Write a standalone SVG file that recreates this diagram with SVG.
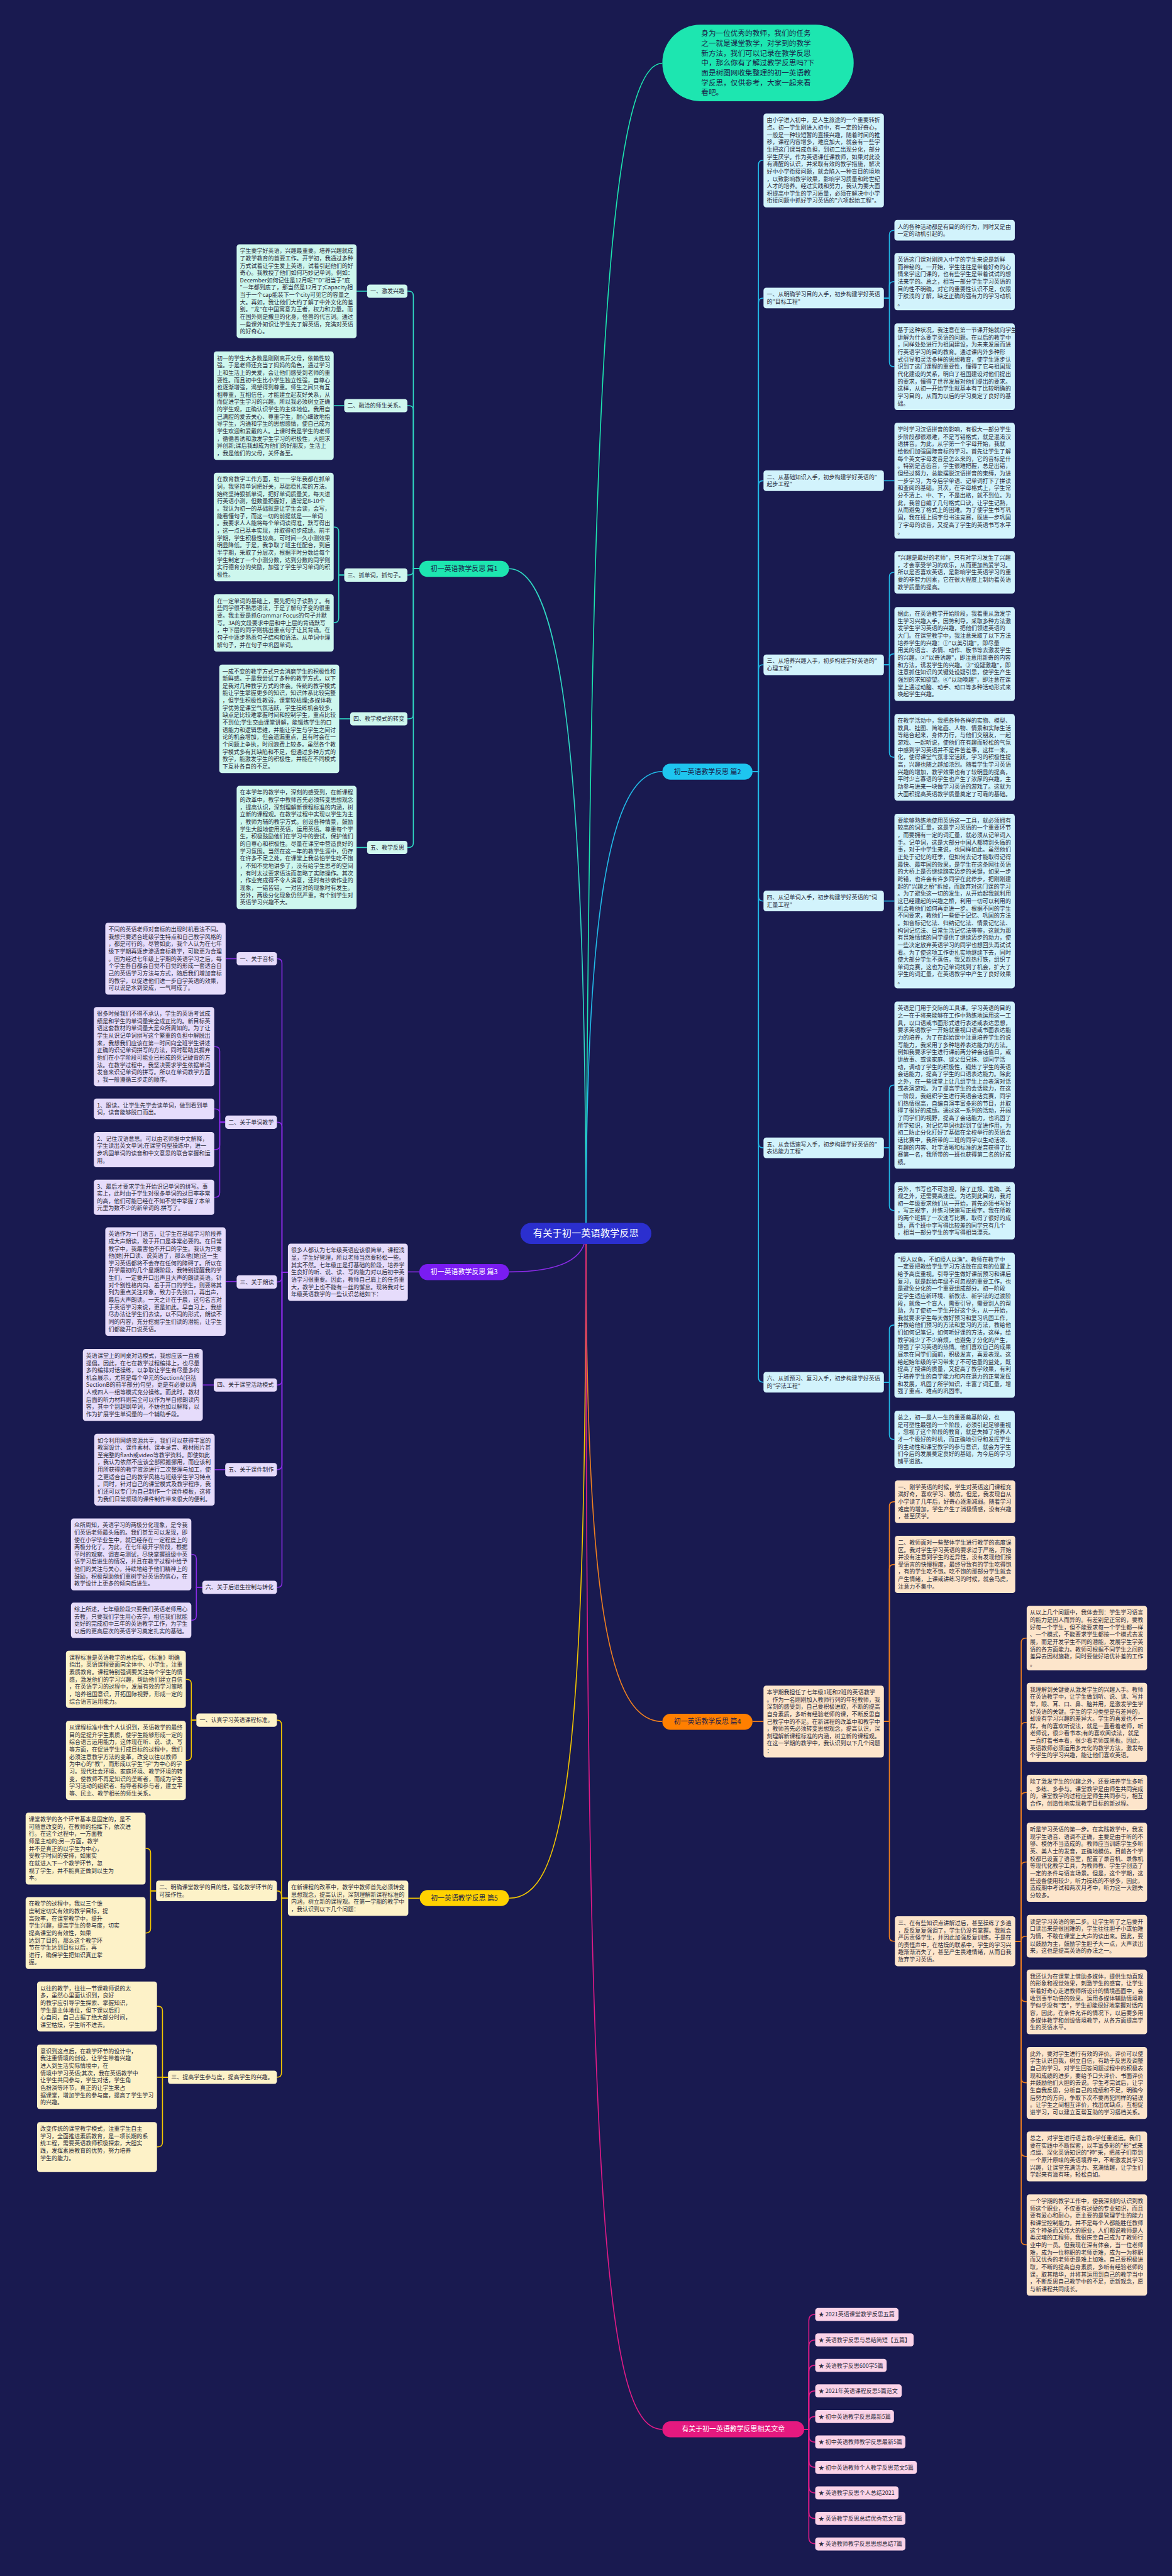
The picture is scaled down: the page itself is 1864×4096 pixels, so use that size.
<svg xmlns="http://www.w3.org/2000/svg" width="1864" height="4096" viewBox="0 0 1864 4096">
<style>
text{font-family:"Noto Sans CJK SC","Noto Sans",sans-serif}
.t{font-size:12.4px;fill:#2b2b3a}
.lb{font-size:15px;text-anchor:middle}
.c{fill:none;stroke-width:2.2}
.c1{stroke:#2fd9c3}.c2{stroke:#22bbe8}.c3{stroke:#8a2be6}.c4{stroke:#f08020}.c5{stroke:#f2c600}.c6{stroke:#e21b87}
.f1{fill:#cef7ee}.f2{fill:#d2f3fc}.f3{fill:#e6dcfb}.f4{fill:#fde5cb}.f5{fill:#fdf2c8}.f6{fill:#fbd3e8}
</style>
<rect width="1864" height="4096" fill="#191a50"/>
<g transform="scale(0.728)">
<g id="connectors">
<path class="c" stroke="#1de6b0" d="M1280,2694 C1290,1000 1320,138 1447,138"/>
<path class="c c1" d="M1280,2694 C1280,1700 1230,1242 1112,1242"/>
<path class="c c2" d="M1280,2694 C1280,2000 1330,1685 1447,1685"/>
<path class="c c3" d="M1280,2694 C1280,2760 1200,2778 1112,2778"/>
<path class="c c4" d="M1280,2694 C1280,3500 1330,3760 1447,3760"/>
<path class="c c5" d="M1280,2694 C1280,3900 1230,4146 1112,4146"/>
<path class="c c6" d="M1280,2694 C1280,4900 1330,5306 1447,5306"/>
<g class="c c1" fill="none">
<path d="M916,1242 H903 V646 Q903,636 893,636 H890"/>
<path d="M916,1242 H903 V896 Q903,886 893,886 H890"/>
<path d="M916,1242 H903 V1246 Q903,1256 893,1256 H890"/>
<path d="M916,1242 H903 V1560 Q903,1570 893,1570 H890"/>
<path d="M916,1242 H903 V1841 Q903,1851 893,1851 H890"/>
<path d="M802,636 H779"/><path d="M752,886 H729"/>
<path d="M752,1256 H740 V1161 Q740,1151 730,1151 H729"/>
<path d="M752,1256 H740 V1350 Q740,1360 730,1360 H729"/>
<path d="M765,1570 H741"/><path d="M802,1851 H779"/>
</g>
<g class="c c2" fill="none">
<path d="M1644,1685 H1657 V360 Q1657,350 1667,350 H1668"/>
<path d="M1644,1685 H1657 V661 Q1657,651 1667,651 H1668"/>
<path d="M1644,1685 H1657 V1060 Q1657,1050 1667,1050 H1668"/>
<path d="M1644,1685 H1657 V1462 Q1657,1452 1667,1452 H1668"/>
<path d="M1644,1685 H1657 V1958 Q1657,1968 1667,1968 H1668"/>
<path d="M1644,1685 H1657 V2497 Q1657,2507 1667,2507 H1668"/>
<path d="M1644,1685 H1657 V3009 Q1657,3019 1667,3019 H1668"/>
<path d="M1931,651 H1943 V513 Q1943,503 1953,503 H1954"/>
<path d="M1931,651 H1943 V625 Q1943,615 1953,615 H1954"/>
<path d="M1931,651 H1943 V791 Q1943,801 1953,801 H1954"/>
<path d="M1931,1050 H1954"/>
<path d="M1931,1452 H1943 V1260 Q1943,1250 1953,1250 H1954"/>
<path d="M1931,1452 H1943 V1438 Q1943,1428 1953,1428 H1954"/>
<path d="M1931,1452 H1943 V1644 Q1943,1654 1953,1654 H1954"/>
<path d="M1931,1968 H1954"/>
<path d="M1931,2507 H1943 V2380 Q1943,2370 1953,2370 H1954"/>
<path d="M1931,2507 H1943 V2634 Q1943,2644 1953,2644 H1954"/>
<path d="M1931,3019 H1943 V2904 Q1943,2894 1953,2894 H1954"/>
<path d="M1931,3019 H1943 V3134 Q1943,3144 1953,3144 H1954"/>
</g>
<g class="c c3" fill="none">
<path d="M916,2778 H891"/>
<path d="M629,2779 H616 V2104 Q616,2094 606,2094 H605"/>
<path d="M629,2779 H616 V2461 Q616,2451 606,2451 H605"/>
<path d="M629,2779 H616 V2790 Q616,2800 606,2800 H605"/>
<path d="M629,2779 H616 V3015 Q616,3025 606,3025 H605"/>
<path d="M629,2779 H616 V3200 Q616,3210 606,3210 H605"/>
<path d="M629,2779 H616 V3457 Q616,3467 606,3467 H605"/>
<path d="M517,2094 H493"/>
<path d="M492,2451 H480 V2296 Q480,2286 470,2286 H468"/>
<path d="M492,2451 H480 V2432 Q480,2422 470,2422 H468"/>
<path d="M492,2451 H480 V2501 Q480,2511 470,2511 H468"/>
<path d="M492,2451 H480 V2605 Q480,2615 470,2615 H468"/>
<path d="M517,2799 H493"/><path d="M467,3025 H443"/><path d="M492,3210 H469"/>
<path d="M442,3467 H429 V3405 Q429,3395 419,3395 H418"/>
<path d="M442,3467 H429 V3529 Q429,3539 419,3539 H418"/>
</g>
<g class="c c4" fill="none">
<path d="M1644,3760 H1668"/>
<path d="M1931,3760 H1943 V3290 Q1943,3280 1953,3280 H1955"/>
<path d="M1931,3760 H1943 V3427 Q1943,3417 1953,3417 H1955"/>
<path d="M1931,3760 H1943 V4230 Q1943,4240 1953,4240 H1955"/>
<path d="M2218,4240 H2231 V3588 Q2231,3578 2241,3578 H2243"/>
<path d="M2218,4240 H2231 V3772 Q2231,3762 2241,3762 H2243"/>
<path d="M2218,4240 H2231 V3925 Q2231,3915 2241,3915 H2243"/>
<path d="M2218,4240 H2231 V4077 Q2231,4067 2241,4067 H2243"/>
<path d="M2218,4240 H2231 V4239 Q2231,4229 2241,4229 H2243"/>
<path d="M2218,4240 H2231 V4362 Q2231,4372 2241,4372 H2243"/>
<path d="M2218,4240 H2231 V4539 Q2231,4549 2241,4549 H2243"/>
<path d="M2218,4240 H2231 V4700 Q2231,4710 2241,4710 H2243"/>
<path d="M2218,4240 H2231 V4893 Q2231,4903 2241,4903 H2243"/>
</g>
<g class="c c5" fill="none">
<path d="M917,4146 H892"/>
<path d="M629,4146 H615 V3767 Q615,3757 605,3757"/>
<path d="M629,4146 H615 V4140 Q615,4130 605,4130"/>
<path d="M629,4146 H615 V4527 Q615,4537 605,4537"/>
<path d="M429,3757 H418 V3678 Q418,3668 408,3668 H406"/>
<path d="M429,3757 H418 V3835 Q418,3845 408,3845 H406"/>
<path d="M341,4130 H329 V4047 Q329,4037 319,4037 H318"/>
<path d="M341,4130 H329 V4212 Q329,4222 319,4222 H318"/>
<path d="M367,4537 H355 V4392 Q355,4382 345,4382 H343"/>
<path d="M367,4537 H343"/>
<path d="M367,4537 H355 V4679 Q355,4689 345,4689 H343"/>
</g>
<g class="c c6" fill="none">
<path d="M1757,5306 H1767 V5069 Q1767,5055 1781,5055"/>
<path d="M1757,5306 H1767 V5125 Q1767,5111 1781,5111"/>
<path d="M1757,5306 H1767 V5180 Q1767,5166 1781,5166"/>
<path d="M1757,5306 H1767 V5236 Q1767,5222 1781,5222"/>
<path d="M1757,5306 H1767 V5292 Q1767,5278 1781,5278"/>
<path d="M1757,5306 H1767 V5320 Q1767,5334 1781,5334"/>
<path d="M1757,5306 H1767 V5375 Q1767,5389 1781,5389"/>
<path d="M1757,5306 H1767 V5431 Q1767,5445 1781,5445"/>
<path d="M1757,5306 H1767 V5487 Q1767,5501 1781,5501"/>
<path d="M1757,5306 H1767 V5542 Q1767,5556 1781,5556"/>
</g>
</g>

<g id="center"><rect x="1137" y="2671" width="286" height="46" rx="23" fill="#2b2fcf"/><text x="1280" y="2701" font-size="21" fill="#fff" text-anchor="middle">有关于初一英语教学反思</text></g>

<g id="intro"><rect x="1447" y="54" width="418" height="167" rx="83" fill="#1de6b0"/>
<text font-size="16" fill="#1a1d4a"><tspan x="1532" y="79">身为一位优秀的教师，我们的任务</tspan><tspan x="1532" dy="21.5">之一就是课堂教学，对学到的教学</tspan><tspan x="1532" dy="21.5">新方法，我们可以记录在教学反思</tspan><tspan x="1532" dy="21.5">中，那么你有了解过教学反思吗?下</tspan><tspan x="1532" dy="21.5">面是树图网收集整理的初一英语教</tspan><tspan x="1532" dy="21.5">学反思，仅供参考，大家一起来看</tspan><tspan x="1532" dy="21.5">看吧。</tspan></text></g>

<g id="b1"><rect x="916" y="1225" width="196" height="35" rx="17.5" fill="#1de6b0"/><text class="lb" x="1014" y="1247.5" fill="#1a1d4a">初一英语教学反思 篇1</text></g>
<g id="b1-1"><rect x="802" y="621.5" width="88" height="29" rx="6" class="f1"/><text class="t" x="809" y="640.5">一、激发兴趣</text></g>
<g id="b1-2"><rect x="752" y="871.5" width="138" height="29" rx="6" class="f1"/><text class="t" x="759" y="890.5">二、融洽的师生关系。</text></g>
<g id="b1-3"><rect x="752" y="1241.5" width="138" height="29" rx="6" class="f1"/><text class="t" x="759" y="1260.5">三、抓单词，抓句子。</text></g>
<g id="b1-4"><rect x="765" y="1555.5" width="125" height="29" rx="6" class="f1"/><text class="t" x="772" y="1574.5">四、教学模式的转变</text></g>
<g id="b1-5"><rect x="802" y="1836.5" width="88" height="29" rx="6" class="f1"/><text class="t" x="809" y="1855.5">五、教学反思</text></g>
<g id="b1-1a"><rect x="517" y="533.5" width="262" height="205" rx="6" class="f1"/><text class="t"><tspan x="524" y="552.5">学生要学好英语，兴趣最重要。培养兴趣就成</tspan><tspan x="524" dy="16">了教学教育的首要工作。开学初，我通过多种</tspan><tspan x="524" dy="16">方式试着让学生爱上英语，试着引起他们的好</tspan><tspan x="524" dy="16">奇心。我教授了他们如何巧妙记单词。例如：</tspan><tspan x="524" dy="16">December如何记住是12月呢?"D"相当于"底</tspan><tspan x="524" dy="16">"一年都到底了，那当然是12月了;Capacity相</tspan><tspan x="524" dy="16">当于一个cap能装下一个city可见它的容量之</tspan><tspan x="524" dy="16">大。再如，我让他们大约了解了中外文化的差</tspan><tspan x="524" dy="16">别。"龙"在中国寓意为王者，权力和力量。而</tspan><tspan x="524" dy="16">在国外则是撒旦的化身，怪兽的代言词。通过</tspan><tspan x="524" dy="16">一些课外知识让学生先了解英语，充满对英语</tspan><tspan x="524" dy="16">的好奇心。</tspan></text></g>
<g id="b1-2a"><rect x="467" y="767.5" width="262" height="237" rx="6" class="f1"/><text class="t"><tspan x="474" y="786.5">初一的学生大多数是刚刚离开父母，依赖性较</tspan><tspan x="474" dy="16">强。于是老师还充当了妈妈的角色，通过学习</tspan><tspan x="474" dy="16">上和生活上的关爱，会让他们感受到老师的重</tspan><tspan x="474" dy="16">要性。而且初中生比小学生独立性强，自尊心</tspan><tspan x="474" dy="16">也逐渐增强，渴望得到尊重。师生之间只有互</tspan><tspan x="474" dy="16">相尊重，互相信任，才能建立起友好关系，从</tspan><tspan x="474" dy="16">而促进学生学习的兴趣。所以我必须树立正确</tspan><tspan x="474" dy="16">的学生观，正确认识学生的主体地位。我用自</tspan><tspan x="474" dy="16">己满腔的爱去关心、尊重学生，耐心细致地指</tspan><tspan x="474" dy="16">导学生，沟通和学生的思想感情，使自己成为</tspan><tspan x="474" dy="16">学生欢迎和爱戴的人。上课时我是学生的老师</tspan><tspan x="474" dy="16">，循循善诱和激发学生学习的积极性，大胆求</tspan><tspan x="474" dy="16">异创新;课后我却成为他们的好朋友，生活上</tspan><tspan x="474" dy="16">，我是他们的父母，关怀备至。</tspan></text></g>
<g id="b1-3a"><rect x="467" y="1032.5" width="262" height="237" rx="6" class="f1"/><text class="t"><tspan x="474" y="1051.5">在教育教学工作方面，初一一学年我都在抓单</tspan><tspan x="474" dy="16">词，我坚持单词把好关，基础稳扎实的方法。</tspan><tspan x="474" dy="16">始终坚持狠抓单词，把好单词质量关，每天进</tspan><tspan x="474" dy="16">行英语小测，但数量把握好，通常是8-10个</tspan><tspan x="474" dy="16">。我认为初一的基础就是让学生会读，会写，</tspan><tspan x="474" dy="16">能看懂句子，而这一切的前提就是——单词</tspan><tspan x="474" dy="16">。我要求人人能将每个单词读得准，默写得出</tspan><tspan x="474" dy="16">，这一点已基本实现，并取得初步成绩。前半</tspan><tspan x="474" dy="16">学期，学生积极性较高，可时间一久小测效果</tspan><tspan x="474" dy="16">明显降低。于是，我争取了班主任配合，到后</tspan><tspan x="474" dy="16">半学期，采取了分层次，根据平时分数给每个</tspan><tspan x="474" dy="16">学生制定了一个小测分数，达到分数的同学则</tspan><tspan x="474" dy="16">实行德育分的奖励，加强了学生学习单词的积</tspan><tspan x="474" dy="16">极性。</tspan></text></g>
<g id="b1-3b"><rect x="467" y="1298" width="262" height="125" rx="6" class="f1"/><text class="t"><tspan x="474" y="1317">在一定单词的基础上，要先把句子读熟了。有</tspan><tspan x="474" dy="16">些同学很不熟悉语法，于是了解句子变的很重</tspan><tspan x="474" dy="16">要。我主要是抓Grammar Focus的句子并默</tspan><tspan x="474" dy="16">写。3A的文段要求中层和中上层的背诵默写</tspan><tspan x="474" dy="16">，中下层的同学则挑出重点句子让其背诵。在</tspan><tspan x="474" dy="16">句子中逐步熟悉句子结构和语法。从单词中理</tspan><tspan x="474" dy="16">解句子，并在句子中巩固单词。</tspan></text></g>
<g id="b1-4a"><rect x="479" y="1451.5" width="262" height="237" rx="6" class="f1"/><text class="t"><tspan x="486" y="1470.5">一成不变的教学方式只会消磨学生的积极性和</tspan><tspan x="486" dy="16">新鲜感。于是我尝试了多种的教学方式，以下</tspan><tspan x="486" dy="16">是我对几种教学方式的体会。传统的教学模式</tspan><tspan x="486" dy="16">能让学生掌握更多的知识，知识体系比较完整</tspan><tspan x="486" dy="16">，但学生积极性教弱，课堂较枯燥;多媒体教</tspan><tspan x="486" dy="16">学优势是课堂气氛活跃，学生操练机会较多，</tspan><tspan x="486" dy="16">缺点是比较难掌握时间和控制学生，重点比较</tspan><tspan x="486" dy="16">不到位;学生交由课堂讲解，能锻炼学生的口</tspan><tspan x="486" dy="16">语能力和逻辑思维，并能让学生与学生之间讨</tspan><tspan x="486" dy="16">论的机会增加，但会遗漏重点，且有时会在一</tspan><tspan x="486" dy="16">个问题上争执，时间浪费上较多。虽然各个教</tspan><tspan x="486" dy="16">学模式多有其缺陷和不足，但通过多种方式的</tspan><tspan x="486" dy="16">教学，能激发学生的积极性，并能在不同模式</tspan><tspan x="486" dy="16">下互补各自的不足。</tspan></text></g>
<g id="b1-5a"><rect x="517" y="1716.5" width="262" height="269" rx="6" class="f1"/><text class="t"><tspan x="524" y="1735.5">在本学年的教学中，深刻的感受到，在新课程</tspan><tspan x="524" dy="16">的改革中，教学中教师首先必须转变思想观念</tspan><tspan x="524" dy="16">，提高认识，深刻理解新课程标准的内涵，树</tspan><tspan x="524" dy="16">立新的课程观。在教学过程中实现以学生为主</tspan><tspan x="524" dy="16">，教师为辅的教学方式。创设各种情景，鼓励</tspan><tspan x="524" dy="16">学生大胆地使用英语，运用英语。尊重每个学</tspan><tspan x="524" dy="16">生，积极鼓励他们在学习中的尝试，保护他们</tspan><tspan x="524" dy="16">的自尊心和积极性。尽量在课堂中营造良好的</tspan><tspan x="524" dy="16">学习氛围。当然在这一年的教学生涯中，仍存</tspan><tspan x="524" dy="16">在许多不足之处，在课堂上我总怕学生吃不饱</tspan><tspan x="524" dy="16">，不知不觉地讲多了，没有给学生思考的空间</tspan><tspan x="524" dy="16">，有时太过要求语法而忽略了实际操作。其次</tspan><tspan x="524" dy="16">，作业完成得不令人满意，还时有抄袭作业的</tspan><tspan x="524" dy="16">现象，一错皆错，一对皆对的现象时有发生。</tspan><tspan x="524" dy="16">另外，两极分化现象仍然严重，有个别学生对</tspan><tspan x="524" dy="16">英语学习兴趣不大。</tspan></text></g>

<g id="b2"><rect x="1447" y="1668" width="197" height="35" rx="17.5" fill="#1ec5ef"/><text class="lb" x="1545.5" y="1690.5" fill="#1a1d4a">初一英语教学反思 篇2</text></g>
<g id="b2-1"><rect x="1668" y="248" width="263" height="205" rx="6" class="f2"/><text class="t"><tspan x="1675" y="267">由小学进入初中，是人生旅途的一个重要转折</tspan><tspan x="1675" dy="16">点。初一学生刚进入初中，有一定的好奇心，</tspan><tspan x="1675" dy="16">一般是一种较短暂的直接兴趣，随着时间的推</tspan><tspan x="1675" dy="16">移，课程内容增多，难度加大，就会有一些学</tspan><tspan x="1675" dy="16">生把这门课当成负担，到初二出现分化，部分</tspan><tspan x="1675" dy="16">学生厌学。作为英语课任课教师，如果对此没</tspan><tspan x="1675" dy="16">有清醒的认识，并采取有效的教学措施，解决</tspan><tspan x="1675" dy="16">好中小学衔接问题，就会陷入一种盲目的境地</tspan><tspan x="1675" dy="16">，以致影响教学效果，影响学习质量和跨世纪</tspan><tspan x="1675" dy="16">人才的培养。经过实践和努力，我认为要大面</tspan><tspan x="1675" dy="16">积提高中学生的学习质量，必须在解决中小学</tspan><tspan x="1675" dy="16">衔接问题中抓好学习英语的"六项起始工程"。</tspan></text></g>
<g id="b2-2"><rect x="1668" y="628.5" width="263" height="45" rx="6" class="f2"/><text class="t"><tspan x="1675" y="647.5">一、从明确学习目的入手，初步构建学好英语</tspan><tspan x="1675" dy="16">的"目标工程"</tspan></text></g>
<g id="b2-3"><rect x="1668" y="1027.5" width="263" height="45" rx="6" class="f2"/><text class="t"><tspan x="1675" y="1046.5">二、从基础知识入手，初步构建学好英语的"</tspan><tspan x="1675" dy="16">起步工程"</tspan></text></g>
<g id="b2-4"><rect x="1668" y="1429.5" width="263" height="45" rx="6" class="f2"/><text class="t"><tspan x="1675" y="1448.5">三、从培养兴趣入手，初步构建学好英语的"</tspan><tspan x="1675" dy="16">心理工程"</tspan></text></g>
<g id="b2-5"><rect x="1668" y="1945.5" width="263" height="45" rx="6" class="f2"/><text class="t"><tspan x="1675" y="1964.5">四、从记单词入手，初步构建学好英语的"词</tspan><tspan x="1675" dy="16">汇量工程"</tspan></text></g>
<g id="b2-6"><rect x="1668" y="2484.5" width="263" height="45" rx="6" class="f2"/><text class="t"><tspan x="1675" y="2503.5">五、从会话速写入手，初步构建学好英语的"</tspan><tspan x="1675" dy="16">表达能力工程"</tspan></text></g>
<g id="b2-7"><rect x="1668" y="2996.5" width="263" height="45" rx="6" class="f2"/><text class="t"><tspan x="1675" y="3015.5">六、从抓预习、复习入手，初步构建学好英语</tspan><tspan x="1675" dy="16">的"学法工程"</tspan></text></g>
<g id="b2-2a"><rect x="1954" y="480.5" width="263" height="45" rx="6" class="f2"/><text class="t"><tspan x="1961" y="499.5">人的各种活动都是有目的的行为，同时又是由</tspan><tspan x="1961" dy="16">一定的动机引起的。</tspan></text></g>
<g id="b2-2b"><rect x="1954" y="552.5" width="263" height="125" rx="6" class="f2"/><text class="t"><tspan x="1961" y="571.5">英语这门课对刚跨入中学的学生来说是新鲜</tspan><tspan x="1961" dy="16">而神秘的。一开始，学生往往是带着好奇的心</tspan><tspan x="1961" dy="16">情来学这门课的，也有些学生是带着试试的想</tspan><tspan x="1961" dy="16">法来学的。总之，相当一部分学生学习英语的</tspan><tspan x="1961" dy="16">目的性不明确，对它的重要性认识不足，仅限</tspan><tspan x="1961" dy="16">于肤浅的了解，缺乏正确的强有力的学习动机</tspan><tspan x="1961" dy="16">。</tspan></text></g>
<g id="b2-2c"><rect x="1954" y="706.5" width="263" height="189" rx="6" class="f2"/><text class="t"><tspan x="1961" y="725.5">基于这种状况，我注意在第一节课开始就向学生</tspan><tspan x="1961" dy="16">讲解为什么要学英语的问题。在以后的教学中</tspan><tspan x="1961" dy="16">，同样处处进行为祖国建设，为未来发展而进</tspan><tspan x="1961" dy="16">行英语学习的目的教育。通过课内外多种形</tspan><tspan x="1961" dy="16">式引导和灵活多样的思想教育，使学生逐步认</tspan><tspan x="1961" dy="16">识到了这门课程的重要性，懂得了它与祖国现</tspan><tspan x="1961" dy="16">代化建设的关系，明白了祖国建设对他们提出</tspan><tspan x="1961" dy="16">的要求，懂得了世界发展对他们提出的要求。</tspan><tspan x="1961" dy="16">这样，从初一开始学生就基本有了比较明确的</tspan><tspan x="1961" dy="16">学习目的，从而为以后的学习奠定了良好的基</tspan><tspan x="1961" dy="16">础。</tspan></text></g>
<g id="b2-3a"><rect x="1954" y="923.5" width="263" height="253" rx="6" class="f2"/><text class="t"><tspan x="1961" y="942.5">学时学习汉语拼音的影响，有很大一部分学生</tspan><tspan x="1961" dy="16">步阶段都很艰难，不是写错格式，就是混淆汉</tspan><tspan x="1961" dy="16">语拼音。为此，从学第一个字母开始，我就</tspan><tspan x="1961" dy="16">给他们加强国际音标的学习。首先让学生了解</tspan><tspan x="1961" dy="16">每个英文字母发音是怎么来的，它的音标是什</tspan><tspan x="1961" dy="16">。特别是舌齿音，学生很难把握，总是出错，</tspan><tspan x="1961" dy="16">但经过努力，总能摆脱汉语拼音的束缚，为进</tspan><tspan x="1961" dy="16">一步学习，为今后学单语、记单词打下了拼读</tspan><tspan x="1961" dy="16">和查阅的基础。其次，在字母格式上，学生常</tspan><tspan x="1961" dy="16">分不清上、中、下，不是出格，就不到位。为</tspan><tspan x="1961" dy="16">此，我曾自编了几句格式口诀，让学生记熟，</tspan><tspan x="1961" dy="16">从而避免了格式上的困难。为了使学生书写巩</tspan><tspan x="1961" dy="16">固，我在班上搞字母书法竞赛，既进一步巩固</tspan><tspan x="1961" dy="16">了字母的读音，又提高了学生的英语书写水平</tspan><tspan x="1961" dy="16">。</tspan></text></g>
<g id="b2-4a"><rect x="1954" y="1203.5" width="263" height="93" rx="6" class="f2"/><text class="t"><tspan x="1961" y="1222.5">"兴趣是最好的老师"，只有对学习发生了兴趣</tspan><tspan x="1961" dy="16">，才会享受学习的欢乐，从而更加热爱学习。</tspan><tspan x="1961" dy="16">所以是否喜欢英语，是影响学生英语学习的重</tspan><tspan x="1961" dy="16">要的非智力因素，它在很大程度上制约着英语</tspan><tspan x="1961" dy="16">教学质量的提高。</tspan></text></g>
<g id="b2-4b"><rect x="1954" y="1326" width="263" height="205" rx="6" class="f2"/><text class="t"><tspan x="1961" y="1345">据此，在英语教学开始阶段，我着重从激发学</tspan><tspan x="1961" dy="16">生学习兴趣入手，因势利导，采取多种方法激</tspan><tspan x="1961" dy="16">发学生学习英语的兴趣，把他们领进英语的</tspan><tspan x="1961" dy="16">大门。在课堂教学中，我注意采取了以下方法</tspan><tspan x="1961" dy="16">培养学生的兴趣：①"以美引趣"，即尽量</tspan><tspan x="1961" dy="16">用美的语言、表情、动作、板书等去激发学生</tspan><tspan x="1961" dy="16">的兴趣。②"以奇诱趣"，即注意用新奇的内容</tspan><tspan x="1961" dy="16">和方法，诱发学生的兴趣。③"设疑激趣"，即</tspan><tspan x="1961" dy="16">注意抓住知识的关键处设疑引思，使学生产生</tspan><tspan x="1961" dy="16">强烈的求知欲望。④"以动唤趣"，即注意在课</tspan><tspan x="1961" dy="16">堂上通过动脑、动手、动口等多种活动形式来</tspan><tspan x="1961" dy="16">唤起学生兴趣。</tspan></text></g>
<g id="b2-4c"><rect x="1954" y="1559.5" width="263" height="189" rx="6" class="f2"/><text class="t"><tspan x="1961" y="1578.5">在教学活动中，我把各种各样的实物、模型、</tspan><tspan x="1961" dy="16">教具、挂图、简笔画、人物、情景和实际生活</tspan><tspan x="1961" dy="16">等结合起来，身体力行，与他们交朋友，一起</tspan><tspan x="1961" dy="16">游戏、一起听说，使他们在有趣而轻松的气氛</tspan><tspan x="1961" dy="16">中感到学习英语并不是件苦差事，这样一来，</tspan><tspan x="1961" dy="16">化，使得课堂气氛非常活跃，学习的积极性提</tspan><tspan x="1961" dy="16">高，兴趣也随之越加浓烈。随着学生学习英语</tspan><tspan x="1961" dy="16">兴趣的增加，教学效果也有了较明显的提高，</tspan><tspan x="1961" dy="16">平时少言寡语的学生也产生了浓厚的兴趣，主</tspan><tspan x="1961" dy="16">动参与进来一块做学习英语的游戏了。这就为</tspan><tspan x="1961" dy="16">大面积提高英语教学质量奠定了可靠的基础。</tspan></text></g>
<g id="b2-5a"><rect x="1954" y="1777.5" width="263" height="381" rx="6" class="f2"/><text class="t"><tspan x="1961" y="1796.5">要能够熟练地使用英语这一工具，就必须拥有</tspan><tspan x="1961" dy="16">较高的词汇量，这是学习英语的一个重要环节</tspan><tspan x="1961" dy="16">，而要拥有一定的词汇量，就必须从记单词入</tspan><tspan x="1961" dy="16">手。记单词，这是大部分中国人都特别头痛的</tspan><tspan x="1961" dy="16">事，对于中学生来说，也同样如此。虽然他们</tspan><tspan x="1961" dy="16">正处于记忆的旺季，但如何去记才能取得记得</tspan><tspan x="1961" dy="16">最快、最牢固的效果，是学生在这条网往英语</tspan><tspan x="1961" dy="16">的大桥上是否继续踏实迈步的关键，如果一步</tspan><tspan x="1961" dy="16">跨错，也许会有许多同学在此停步，把刚刚建</tspan><tspan x="1961" dy="16">起的"兴趣之桥"拆掉，而放弃对这门课的学习</tspan><tspan x="1961" dy="16">。为了避免这一切的发生，从开始起我就利用</tspan><tspan x="1961" dy="16">这已经建起的兴趣之桥，利用一切可以利用的</tspan><tspan x="1961" dy="16">机会教他们如何再更进一步。根据不同的学生</tspan><tspan x="1961" dy="16">不同要求，教他们一些便于记忆、巩固的方法</tspan><tspan x="1961" dy="16">。如音标记忆法、归纳记忆法、情景记忆法、</tspan><tspan x="1961" dy="16">构词记忆法、日常生活记忆法等等，这就为那</tspan><tspan x="1961" dy="16">有畏难情绪的同学提供了继续迈步的动力，使</tspan><tspan x="1961" dy="16">一些决定放弃英语学习的同学也想回头再试试</tspan><tspan x="1961" dy="16">看。为了使这项工作更扎实地继续下去，同时</tspan><tspan x="1961" dy="16">使大部分学生不落伍，我又趁热打铁，组织了</tspan><tspan x="1961" dy="16">单词竞赛，这也为记单词找到了机会，扩大了</tspan><tspan x="1961" dy="16">学生的词汇量，在英语教学中产生了良好效果</tspan><tspan x="1961" dy="16">。</tspan></text></g>
<g id="b2-6a"><rect x="1954" y="2187.5" width="263" height="365" rx="6" class="f2"/><text class="t"><tspan x="1961" y="2206.5">英语是门用于交际的工具课。学习英语的目的</tspan><tspan x="1961" dy="16">之一在于将来能够在工作中熟练地运用这一工</tspan><tspan x="1961" dy="16">具，以口语或书面形式进行表述或表达思想，</tspan><tspan x="1961" dy="16">要求英语教学一开始就重视口语或书面表达能</tspan><tspan x="1961" dy="16">力的培养，为了在起始课中注意培养学生的说</tspan><tspan x="1961" dy="16">写能力，我采用了多种培养表达能力的方法。</tspan><tspan x="1961" dy="16">例如我要求学生进行课前两分钟会话值日，或</tspan><tspan x="1961" dy="16">讲故事、或谈家庭、谈父母兄妹、谈同学活</tspan><tspan x="1961" dy="16">动，调动了学生的积极性，锻炼了学生的英语</tspan><tspan x="1961" dy="16">会话能力，提高了学生的口语表达能力。除此</tspan><tspan x="1961" dy="16">之外，在一些课堂上让几组学生上台表演对话</tspan><tspan x="1961" dy="16">或表演游戏。为了提高学生的会话能力，在这</tspan><tspan x="1961" dy="16">一阶段，我组织学生进行英语会话竞赛，同学</tspan><tspan x="1961" dy="16">们热情很高，自编自演丰富多彩的节目，并取</tspan><tspan x="1961" dy="16">得了很好的成绩。通过这一系列的活动，开阔</tspan><tspan x="1961" dy="16">了同学们的视野，提高了会话能力，也巩固了</tspan><tspan x="1961" dy="16">所学知识，对记忆单词也起到了促进作用，为</tspan><tspan x="1961" dy="16">初二防止分化打好了基础在全校举行的英语会</tspan><tspan x="1961" dy="16">话比赛中，我所带的二班的同学以生动活泼、</tspan><tspan x="1961" dy="16">有趣的内容、吐字清晰和标准的发音获得了比</tspan><tspan x="1961" dy="16">赛第一名，我所带的一班也获得第二名的好成</tspan><tspan x="1961" dy="16">绩。</tspan></text></g>
<g id="b2-6b"><rect x="1954" y="2582" width="263" height="125" rx="6" class="f2"/><text class="t"><tspan x="1961" y="2601">另外，书写也不可忽视，除了正规、准确、美</tspan><tspan x="1961" dy="16">观之外，还需要高速度。为达到此目的，我对</tspan><tspan x="1961" dy="16">初一年级要求他们从一开始，首先必须书写好</tspan><tspan x="1961" dy="16">，写正规字，并练习快速写正规字。我在所教</tspan><tspan x="1961" dy="16">的两个班搞了一次速写比赛，取得了很好的成</tspan><tspan x="1961" dy="16">绩，两个班中字写得比较差的同学只有几个</tspan><tspan x="1961" dy="16">，相当一部分学生的字写得相当漂亮。</tspan></text></g>
<g id="b2-7a"><rect x="1954" y="2736" width="263" height="317" rx="6" class="f2"/><text class="t"><tspan x="1961" y="2755">"授人以鱼，不如授人以渔"。教师在教学中</tspan><tspan x="1961" dy="16">一定要把教给学生学习方法放在应有的位置上</tspan><tspan x="1961" dy="16">给予高度重视。引导学生做好课前预习和课后</tspan><tspan x="1961" dy="16">复习，就是起始年级不可忽视的重要工作，也</tspan><tspan x="1961" dy="16">是避免分化的一个重要组成部分。初一阶段</tspan><tspan x="1961" dy="16">是学生适应新环境、新教法、新学法的过渡阶</tspan><tspan x="1961" dy="16">段，就像一个盲人，需要引导，需要别人的帮</tspan><tspan x="1961" dy="16">助，为了使初一学生开好这个头，从一开始，</tspan><tspan x="1961" dy="16">我就要求学生每天做好预习和复习巩固工作，</tspan><tspan x="1961" dy="16">并教给他们预习的方法和复习的方法，教给他</tspan><tspan x="1961" dy="16">们如何记笔记，如何听好课的方法，这样，给</tspan><tspan x="1961" dy="16">教学减少了不少麻烦，也避免了分化的产生，</tspan><tspan x="1961" dy="16">增强了学习英语的热情。他们喜欢自己的成果</tspan><tspan x="1961" dy="16">展示在同学们面前，积极发言，喜爱表现。这</tspan><tspan x="1961" dy="16">给起始年级的学习带来了不可估量的益处，既</tspan><tspan x="1961" dy="16">提高了授课的质量，又提高了教学效果，有利</tspan><tspan x="1961" dy="16">于培养学生的自学能力和内在潜力的正常发挥</tspan><tspan x="1961" dy="16">和发展，巩固了所学知识，丰富了词汇量，增</tspan><tspan x="1961" dy="16">强了重点、难点的巩固率。</tspan></text></g>
<g id="b2-7b"><rect x="1954" y="3081.5" width="263" height="125" rx="6" class="f2"/><text class="t"><tspan x="1961" y="3100.5">总之，初一是人一生的重要奠基阶段，也</tspan><tspan x="1961" dy="16">是可塑性最强的一个阶段，必须引起足够重视</tspan><tspan x="1961" dy="16">，忽视了这个阶段的教育，就是失掉了培养人</tspan><tspan x="1961" dy="16">才一个极好的时机，而正确地引导和发挥学生</tspan><tspan x="1961" dy="16">的主动性和课堂教学的参与意识，就会为学生</tspan><tspan x="1961" dy="16">们今后的发展奠定良好的基础，为今后的学习</tspan><tspan x="1961" dy="16">铺平道路。</tspan></text></g>

<g id="b3"><rect x="916" y="2761" width="196" height="35" rx="17.5" fill="#7a1cf2"/><text class="lb" x="1014" y="2783.5" fill="#fff">初一英语教学反思 篇3</text></g>
<g id="b3-0"><rect x="629" y="2716.5" width="262" height="125" rx="6" class="f3"/><text class="t"><tspan x="636" y="2735.5">很多人都认为七年级英语应该很简单，课程浅</tspan><tspan x="636" dy="16">显，学生好管理，所以老师当然要轻松一些。</tspan><tspan x="636" dy="16">其实不然。七年级正是打基础的阶段，培养学</tspan><tspan x="636" dy="16">生良好的听、说、读、写的能力对以后初中英</tspan><tspan x="636" dy="16">语学习很重要。因此，教师自己肩上的任务重</tspan><tspan x="636" dy="16">大，教学上也不能有一丝的懈怠。现将我对七</tspan><tspan x="636" dy="16">年级英语教学的一些认识总结如下：</tspan></text></g>
<g id="b3-1"><rect x="517" y="2079.5" width="88" height="29" rx="6" class="f3"/><text class="t" x="524" y="2098.5">一、关于音标</text></g>
<g id="b3-2"><rect x="492" y="2436.5" width="113" height="29" rx="6" class="f3"/><text class="t" x="499" y="2455.5">二、关于单词教学</text></g>
<g id="b3-3"><rect x="517" y="2785.5" width="88" height="29" rx="6" class="f3"/><text class="t" x="524" y="2804.5">三、关于朗读</text></g>
<g id="b3-4"><rect x="467" y="3010.5" width="138" height="29" rx="6" class="f3"/><text class="t" x="474" y="3029.5">四、关于课堂活动模式</text></g>
<g id="b3-5"><rect x="492" y="3195.5" width="113" height="29" rx="6" class="f3"/><text class="t" x="499" y="3214.5">五、关于课件制作</text></g>
<g id="b3-6"><rect x="442" y="3452.5" width="163" height="29" rx="6" class="f3"/><text class="t" x="449" y="3471.5">六、关于后进生控制与转化</text></g>
<g id="b3-1a"><rect x="230" y="2015.5" width="263" height="157" rx="6" class="f3"/><text class="t"><tspan x="237" y="2034.5">不同的英语老师对音标的出现时机看法不同。</tspan><tspan x="237" dy="16">我想只要适合班级学生特点和自己教学风格的</tspan><tspan x="237" dy="16">，都是可行的。尽管如此，我个人认为在七年</tspan><tspan x="237" dy="16">级下学期再逐步渗透音标教学，可能更为合理</tspan><tspan x="237" dy="16">。因为经过七年级上学期的英语学习之后，每</tspan><tspan x="237" dy="16">个学生各自都会自觉不自觉的形成一套适合自</tspan><tspan x="237" dy="16">己的英语学习方法与方式，随后我们增加音标</tspan><tspan x="237" dy="16">的教学，以促进他们进一步自学英语的效果，</tspan><tspan x="237" dy="16">可以说是水到渠成，一气呵成了。</tspan></text></g>
<g id="b3-2a"><rect x="205" y="2199.5" width="263" height="173" rx="6" class="f3"/><text class="t"><tspan x="212" y="2218.5">很多时候我们不得不承认，学生的英语考试成</tspan><tspan x="212" dy="16">绩是和学生的单词量完全成正比的。新目标英</tspan><tspan x="212" dy="16">语这套教材的单词量大是众所周知的。为了让</tspan><tspan x="212" dy="16">学生从识记单词拼写这个繁重的负担中解脱出</tspan><tspan x="212" dy="16">来，我想我们应该在第一时间向全班学生讲述</tspan><tspan x="212" dy="16">正确的识记单词拼写的方法，同时帮助其摒弃</tspan><tspan x="212" dy="16">他们在小学阶段可能业已形成的死记硬背的方</tspan><tspan x="212" dy="16">法。在教学过程中，我坚决要求学生依据单词</tspan><tspan x="212" dy="16">发音来识记单词的拼写。所以在单词教学方面</tspan><tspan x="212" dy="16">，我一般遵循三步走的顺序。</tspan></text></g>
<g id="b3-2b"><rect x="205" y="2399.5" width="263" height="45" rx="6" class="f3"/><text class="t"><tspan x="212" y="2418.5">1、跟读。让学生先学会读单词，做到看到单</tspan><tspan x="212" dy="16">词，读音能够脱口而出。</tspan></text></g>
<g id="b3-2c"><rect x="205" y="2472.5" width="263" height="77" rx="6" class="f3"/><text class="t"><tspan x="212" y="2491.5">2、记住汉语意思。可以由老师报中文解释，</tspan><tspan x="212" dy="16">学生读出英文单词;在课堂句型操练中，进一</tspan><tspan x="212" dy="16">步巩固单词的读音和中文意思的联合掌握和运</tspan><tspan x="212" dy="16">用。</tspan></text></g>
<g id="b3-2d"><rect x="205" y="2576.5" width="263" height="77" rx="6" class="f3"/><text class="t"><tspan x="212" y="2595.5">3、最后才要求学生开始识记单词的拼写。事</tspan><tspan x="212" dy="16">实上，此时由于学生对很多单词的过目率非常</tspan><tspan x="212" dy="16">的高，他们可能已经在不知不觉中掌握了本单</tspan><tspan x="212" dy="16">元里为数不少的新单词的.拼写了。</tspan></text></g>
<g id="b3-3a"><rect x="230" y="2680.5" width="263" height="237" rx="6" class="f3"/><text class="t"><tspan x="237" y="2699.5">英语作为一门语言，让学生在基础学习阶段养</tspan><tspan x="237" dy="16">成大声朗读，敢于开口是非常必要的。在日常</tspan><tspan x="237" dy="16">教学中，我最害怕不开口的学生。我认为只要</tspan><tspan x="237" dy="16">他(她)开口读、说英语了，那么他(她)这一生</tspan><tspan x="237" dy="16">学习英语都将不会存在任何的障碍了。所以在</tspan><tspan x="237" dy="16">开学最初的几个星期阶段，我特别提醒我的学</tspan><tspan x="237" dy="16">生们，一定要开口出声且大声的朗读英语。针</tspan><tspan x="237" dy="16">对个别性格内向、羞于开口的学生，则要将其</tspan><tspan x="237" dy="16">列为重点关注对象，致力于先张口，再出声，</tspan><tspan x="237" dy="16">最后大声朗读。一天之计在于晨，这句名言对</tspan><tspan x="237" dy="16">于英语学习来说，更是如此。早自习上，我想</tspan><tspan x="237" dy="16">尽办法让学生们去读，以不同的形式，朗读不</tspan><tspan x="237" dy="16">同的内容，充分挖掘学生们读的潜能，让学生</tspan><tspan x="237" dy="16">们都能开口说英语。</tspan></text></g>
<g id="b3-4a"><rect x="181" y="2946.5" width="262" height="157" rx="6" class="f3"/><text class="t"><tspan x="188" y="2965.5">英语课堂上的同桌对话模式，我想应该一直被</tspan><tspan x="188" dy="16">提倡。因此，在七在教学过程编排上，也尽量</tspan><tspan x="188" dy="16">多的编排对话操练，以争取让学生有尽量多的</tspan><tspan x="188" dy="16">机会展示，尤其是每个单元的SectionA(包括</tspan><tspan x="188" dy="16">SectionB的前半部分)句型，更是有必要以两</tspan><tspan x="188" dy="16">人或四人一组等模式充分操练。而此时，教材</tspan><tspan x="188" dy="16">后面的听力材料则完全可以作为早自修朗读内</tspan><tspan x="188" dy="16">容，其中个别超纲单词，不妨也加以解释，以</tspan><tspan x="188" dy="16">作为扩展学生单词量的一个辅助手段。</tspan></text></g>
<g id="b3-5a"><rect x="206" y="3131.5" width="263" height="157" rx="6" class="f3"/><text class="t"><tspan x="213" y="3150.5">如今利用网络资源共享，我们可以获得丰富的</tspan><tspan x="213" dy="16">教案设计、课件素材、课本录音、教材图片甚</tspan><tspan x="213" dy="16">至完整的flash或video等教学资料。即使如此</tspan><tspan x="213" dy="16">，我认为依然不应该全部照搬挪用，而应该利</tspan><tspan x="213" dy="16">用所获得的教学资源进行二次整理与加工，使</tspan><tspan x="213" dy="16">之更适合自己的教学风格与班级学生学习特点</tspan><tspan x="213" dy="16">。同时，针对自己的课堂模式及教学程序，我</tspan><tspan x="213" dy="16">们还可以专门为自己制作一个课件模板，这将</tspan><tspan x="213" dy="16">为我们日常烦琐的课件制作带来很大的便利。</tspan></text></g>
<g id="b3-6a"><rect x="155" y="3316.5" width="263" height="157" rx="6" class="f3"/><text class="t"><tspan x="162" y="3335.5">众所周知，英语学习的两极分化现象，是令我</tspan><tspan x="162" dy="16">们英语老师最头痛的。我们甚至可以发现，即</tspan><tspan x="162" dy="16">使在小学毕业生中，就已经存在一定程度上的</tspan><tspan x="162" dy="16">两极分化了。为此，在七年级开学阶段，根据</tspan><tspan x="162" dy="16">平时的观察、调查与测试，尽快掌握班级中英</tspan><tspan x="162" dy="16">语学习后进生的情况，并且在教学过程中给予</tspan><tspan x="162" dy="16">他们的关注与关心，持续地给予他们精神上的</tspan><tspan x="162" dy="16">鼓励，积极帮助他们重树学好英语的信心，在</tspan><tspan x="162" dy="16">教学设计上更多的倾向后进生。</tspan></text></g>
<g id="b3-6b"><rect x="155" y="3500.5" width="263" height="77" rx="6" class="f3"/><text class="t"><tspan x="162" y="3519.5">综上所述，七年级阶段只要我们英语老师用心</tspan><tspan x="162" dy="16">去教，只要我们学生用心去学，相信我们就能</tspan><tspan x="162" dy="16">更好的完成初中三年的英语教学工作，为学生</tspan><tspan x="162" dy="16">以后的更高层次的英语学习奠定扎实的基础。</tspan></text></g>

<g id="b4"><rect x="1447" y="3743" width="197" height="35" rx="17.5" fill="#ff7f00"/><text class="lb" x="1545.5" y="3765.5" fill="#1a1d4a">初一英语教学反思 篇4</text></g>
<g id="b4-0"><rect x="1668" y="3681.5" width="263" height="157" rx="6" class="f4"/><text class="t"><tspan x="1675" y="3700.5">本学期我担任了七年级1班和2班的英语教学</tspan><tspan x="1675" dy="16">。作为一名刚刚加入教师行列的年轻教师，我</tspan><tspan x="1675" dy="16">深刻的感受到，自己要积极进取，不断的提高</tspan><tspan x="1675" dy="16">自身素质，多听有经验老师的课，不断反思自</tspan><tspan x="1675" dy="16">己教学中的不足。在新课程的改革中和教学中</tspan><tspan x="1675" dy="16">，教师首先必须转变思想观念，提高认识，深</tspan><tspan x="1675" dy="16">刻理解新课程标准的内涵，树立新的课程观。</tspan><tspan x="1675" dy="16">在这一学期的教学中，我认识到以下几个问题</tspan><tspan x="1675" dy="16">：</tspan></text></g>
<g id="b4-1"><rect x="1955" y="3233.5" width="263" height="93" rx="6" class="f4"/><text class="t"><tspan x="1962" y="3252.5">一、刚学英语的时候，学生对英语这门课程充</tspan><tspan x="1962" dy="16">满好奇，喜欢学习、模仿。但是，我发现自从</tspan><tspan x="1962" dy="16">小学读了几年后，好奇心逐渐减弱。随着学习</tspan><tspan x="1962" dy="16">难度的增加，学生产生了消极情感，没有兴趣</tspan><tspan x="1962" dy="16">，甚至厌学。</tspan></text></g>
<g id="b4-2"><rect x="1955" y="3354.5" width="263" height="125" rx="6" class="f4"/><text class="t"><tspan x="1962" y="3373.5">二、教师面对一些整体学生进行教学的态度误</tspan><tspan x="1962" dy="16">区。我对学生学习英语的要求过于严格，开始</tspan><tspan x="1962" dy="16">并没有注意到学生的差异性，没有发现他们接</tspan><tspan x="1962" dy="16">受语言的快慢程度，最终导致有的学生吃得饱</tspan><tspan x="1962" dy="16">，有的学生吃不饱。吃不饱的那部分学生就会</tspan><tspan x="1962" dy="16">产生情绪，上课或讲练习的时候，就会马虎，</tspan><tspan x="1962" dy="16">注意力不集中。</tspan></text></g>
<g id="b4-3"><rect x="1955" y="4185.5" width="263" height="109" rx="6" class="f4"/><text class="t"><tspan x="1962" y="4204.5">三、在有些知识点讲解过后，甚至操练了多遍</tspan><tspan x="1962" dy="16">，反反复复强调了，学生仍没有掌握。我就会</tspan><tspan x="1962" dy="16">严厉责怪学生，并因此加强反复训练。于是在</tspan><tspan x="1962" dy="16">的责怪声中，在枯燥的联系中，学生的学习兴</tspan><tspan x="1962" dy="16">趣渐渐消失了，甚至产生畏难情绪，从而自我</tspan><tspan x="1962" dy="16">放弃学习英语。</tspan></text></g>
<g id="b4-3a"><rect x="2243" y="3507.5" width="263" height="141" rx="6" class="f4"/><text class="t"><tspan x="2250" y="3526.5">从以上几个问题中，我体会到：学生学习语言</tspan><tspan x="2250" dy="16">的能力是因人而异的。有差别是正常的，要教</tspan><tspan x="2250" dy="16">好每一个学生，但不能要求每一个学生都一样</tspan><tspan x="2250" dy="16">、一个模式，不能要求学生都按一个模式去发</tspan><tspan x="2250" dy="16">展，而是开发学生不同的潜能，发展学生学英</tspan><tspan x="2250" dy="16">语的各方面能力。教师可根据不同学生之间的</tspan><tspan x="2250" dy="16">差异去因材施教，同时要做好培优补差的工作</tspan><tspan x="2250" dy="16">。</tspan></text></g>
<g id="b4-3b"><rect x="2243" y="3675.5" width="263" height="173" rx="6" class="f4"/><text class="t"><tspan x="2250" y="3694.5">我理解到关键要从激发学生的兴趣入手。教师</tspan><tspan x="2250" dy="16">在英语教学中，让学生做到听、说、读、写并</tspan><tspan x="2250" dy="16">举，眼、耳、口、鼻、脑并用，是激发学生学</tspan><tspan x="2250" dy="16">好英语的关键。学生的学习类型是有差异的，</tspan><tspan x="2250" dy="16">却没有学习兴趣的差异大。学生的喜爱也不一</tspan><tspan x="2250" dy="16">样，有的喜欢听说法，就是一直看着老师，听</tspan><tspan x="2250" dy="16">老师说，很少看书本;有的喜欢阅读法，就是</tspan><tspan x="2250" dy="16">一直盯着书本看，很少看老师或黑板。因此，</tspan><tspan x="2250" dy="16">英语教师必须运用多元化的教学方法，激发每</tspan><tspan x="2250" dy="16">个学生的学习兴趣，能让他们喜欢英语。</tspan></text></g>
<g id="b4-3c"><rect x="2243" y="3876.5" width="263" height="77" rx="6" class="f4"/><text class="t"><tspan x="2250" y="3895.5">除了激发学生的兴趣之外，还要培养学生多听</tspan><tspan x="2250" dy="16">、多练、多参与。课堂教学是由师生共同完成</tspan><tspan x="2250" dy="16">的，课堂教学的过程应是师生共同参与，相互</tspan><tspan x="2250" dy="16">合作，创造性地实现教学目标的新过程。</tspan></text></g>
<g id="b4-3d"><rect x="2243" y="3981" width="263" height="173" rx="6" class="f4"/><text class="t"><tspan x="2250" y="4000">听是学习英语的第一步。在实践教学中，我发</tspan><tspan x="2250" dy="16">现学生语音、语调不正确，主要是由于听的不</tspan><tspan x="2250" dy="16">够、模仿不当造成的。教师应当训练学生多听</tspan><tspan x="2250" dy="16">英、美人士的发音，正确地模仿。目前各个学</tspan><tspan x="2250" dy="16">校都已设置了语音室，配置了录音机、录像机</tspan><tspan x="2250" dy="16">等现代化教学工具，为教师教、学生学创造了</tspan><tspan x="2250" dy="16">一定的条件与语言场景。但是，这个学期，这</tspan><tspan x="2250" dy="16">些设备使用较少，听力操练的不够多，因此，</tspan><tspan x="2250" dy="16">造成期中考试和两次月考中，听力这一大题失</tspan><tspan x="2250" dy="16">分较多。</tspan></text></g>
<g id="b4-3e"><rect x="2243" y="4182.5" width="263" height="93" rx="6" class="f4"/><text class="t"><tspan x="2250" y="4201.5">读是学习英语的第二步。让学生听了之后要开</tspan><tspan x="2250" dy="16">口读出来是很困难的，学生往往胆子小或怕难</tspan><tspan x="2250" dy="16">为情，不敢在课堂上大声的读出来。因此，要</tspan><tspan x="2250" dy="16">以鼓励为主，鼓励学生胆子大一点，大声读出</tspan><tspan x="2250" dy="16">来，这也是提高英语的办法之一。</tspan></text></g>
<g id="b4-3f"><rect x="2243" y="4302" width="263" height="141" rx="6" class="f4"/><text class="t"><tspan x="2250" y="4321">我还认为在课堂上借助多媒体，提供生动直观</tspan><tspan x="2250" dy="16">的形象和视觉效果，刺激学生的感官，让学生</tspan><tspan x="2250" dy="16">带着好奇心走进教师所设计的情境画面中，会</tspan><tspan x="2250" dy="16">收到事半功倍的效果。运用多媒体辅助情境教</tspan><tspan x="2250" dy="16">学似乎没有"苦"，学生却能很好地掌握对话内</tspan><tspan x="2250" dy="16">容，因此，在条件允许的情况下，以后要多用</tspan><tspan x="2250" dy="16">多媒体教学和创设情境教学，从各方面提高学</tspan><tspan x="2250" dy="16">生的英语水平。</tspan></text></g>
<g id="b4-3g"><rect x="2243" y="4471" width="263" height="157" rx="6" class="f4"/><text class="t"><tspan x="2250" y="4490">此外，要对学生进行有效的评价。评价可以使</tspan><tspan x="2250" dy="16">学生认识自我，树立自信，有助于反思及调整</tspan><tspan x="2250" dy="16">自己的学习。对学生回答问题过程中的积极表</tspan><tspan x="2250" dy="16">现和成绩的进步，要给予口头评价、书面评价</tspan><tspan x="2250" dy="16">并鼓励他们大胆的去说。学生考完试后，让学</tspan><tspan x="2250" dy="16">生自我反思，分析自己的成绩和不足，明确今</tspan><tspan x="2250" dy="16">后努力的方向，争取下次不要再犯同样的错误</tspan><tspan x="2250" dy="16">。让学生之间相互评价，找出优缺点，互相促</tspan><tspan x="2250" dy="16">进学习，可以建立互帮互助的学习搭档关系。</tspan></text></g>
<g id="b4-3h"><rect x="2243" y="4655.5" width="263" height="109" rx="6" class="f4"/><text class="t"><tspan x="2250" y="4674.5">总之，对学生进行语言教c学任重道远。我们</tspan><tspan x="2250" dy="16">要在实践中不断探索，以丰富多彩的"形"式来</tspan><tspan x="2250" dy="16">点缀、深化英语知识的"神"采，把孩子们带到</tspan><tspan x="2250" dy="16">一个原汁原味的英语境界中，不断激发其学习</tspan><tspan x="2250" dy="16">兴趣，让课堂充满活力、充满情趣，让学生们</tspan><tspan x="2250" dy="16">学起来有滋有味，轻松自如。</tspan></text></g>
<g id="b4-3i"><rect x="2243" y="4793" width="263" height="221" rx="6" class="f4"/><text class="t"><tspan x="2250" y="4812">一个学期的教学工作中，使我深刻的认识到教</tspan><tspan x="2250" dy="16">师这个职业，不仅要有过硬的专业知识，而且</tspan><tspan x="2250" dy="16">要有爱心和耐心，更主要的是管理学生的能力</tspan><tspan x="2250" dy="16">和课堂控制能力。并不是每个人都能胜任教师</tspan><tspan x="2250" dy="16">这个神圣而又伟大的职业，人们都说教师是人</tspan><tspan x="2250" dy="16">类灵魂的工程师，我很庆幸自己成为了教师行</tspan><tspan x="2250" dy="16">业中的一员。但我现在深有体会，当一位老师</tspan><tspan x="2250" dy="16">难，成为一位称职的老师更难，成为一为称职</tspan><tspan x="2250" dy="16">而又优秀的老师更是难上加难。自己要积极进</tspan><tspan x="2250" dy="16">取，不断的提高自身素质，多听有经验老师的</tspan><tspan x="2250" dy="16">课，取其精华，并将其运用到自己的教学当中</tspan><tspan x="2250" dy="16">，不断反思自己教学中的不足，更新观念，愿</tspan><tspan x="2250" dy="16">与新课程共同成长。</tspan></text></g>

<g id="b5"><rect x="917" y="4128" width="195" height="35" rx="17.5" fill="#ffd200"/><text class="lb" x="1014.5" y="4150.5" fill="#1a1d4a">初一英语教学反思 篇5</text></g>
<g id="b5-0"><rect x="629" y="4107.5" width="263" height="77" rx="6" class="f5"/><text class="t"><tspan x="636" y="4126.5">在新课程的改革中，教学中教师首先必须转变</tspan><tspan x="636" dy="16">思想观念，提高认识，深刻理解新课程标准的</tspan><tspan x="636" dy="16">内涵，树立新的课程观。在第一学期的教学中</tspan><tspan x="636" dy="16">，我认识到以下几个问题：</tspan></text></g>
<g id="b5-1"><rect x="429" y="3742.5" width="176" height="29" rx="6" class="f5"/><text class="t" x="436" y="3761.5">一、认真学习英语课程标准。</text></g>
<g id="b5-2"><rect x="341" y="4107.5" width="264" height="45" rx="6" class="f5"/><text class="t"><tspan x="348" y="4126.5">二、明确课堂教学的目的性，强化教学环节的</tspan><tspan x="348" dy="16">可操作性。</tspan></text></g>
<g id="b5-3"><rect x="367" y="4522.5" width="238" height="29" rx="6" class="f5"/><text class="t" x="374" y="4541.5">三、提高学生参与度，提高学生的兴趣。</text></g>
<g id="b5-1a"><rect x="144" y="3605.5" width="262" height="125" rx="6" class="f5"/><text class="t"><tspan x="151" y="3624.5">课程标准是英语教学的总指挥，《标准》明确</tspan><tspan x="151" dy="16">指出，英语课程要面向全体中、小学生，注重</tspan><tspan x="151" dy="16">素质教育。课程特别强调要关注每个学生的情</tspan><tspan x="151" dy="16">感，激发他们的学习兴趣，帮助他们建立自信</tspan><tspan x="151" dy="16">，在英语学习的过程中，发展有效的学习策略</tspan><tspan x="151" dy="16">，培养祖国意识，开拓国际视野，形成一定的</tspan><tspan x="151" dy="16">综合语言运用能力。</tspan></text></g>
<g id="b5-1b"><rect x="144" y="3758.5" width="262" height="173" rx="6" class="f5"/><text class="t"><tspan x="151" y="3777.5">从课程标准中我个人认识到，英语教学的最终</tspan><tspan x="151" dy="16">目的是提升学生素质，使学生能够形成一定的</tspan><tspan x="151" dy="16">综合语言运用能力，这体现在听、说、读、写</tspan><tspan x="151" dy="16">等方面，在促进学生打成目标的过程中，我们</tspan><tspan x="151" dy="16">必须注意教学方法的变革，改变以往以教师</tspan><tspan x="151" dy="16">为中心的"教"，而形成以学生"学"为中心的学</tspan><tspan x="151" dy="16">习。现代社会环境、家庭环境、教学环境的转</tspan><tspan x="151" dy="16">变，使教师不再是知识的垄断者，而成为学生</tspan><tspan x="151" dy="16">学习活动的组织者、指导者和参与者，建立平</tspan><tspan x="151" dy="16">等、民主、教学相长的师生关系。</tspan></text></g>
<g id="b5-2a"><rect x="56" y="3959" width="262" height="157" rx="6" class="f5"/><text class="t"><tspan x="63" y="3978">课堂教学的各个环节基本是固定的，是不</tspan><tspan x="63" dy="16">可随意改变的，在教师的指挥下，依次进</tspan><tspan x="63" dy="16">行。在这个过程中，一方面教</tspan><tspan x="63" dy="16">师是主动的;另一方面，教学</tspan><tspan x="63" dy="16">并不是真正的以学生为中心，</tspan><tspan x="63" dy="16">受教学时间的安排，如果实</tspan><tspan x="63" dy="16">在就进入下一个教学环节，忽</tspan><tspan x="63" dy="16">视了学生，并不能真正做到以生为</tspan><tspan x="63" dy="16">本。</tspan></text></g>
<g id="b5-2b"><rect x="56" y="4143.5" width="262" height="157" rx="6" class="f5"/><text class="t"><tspan x="63" y="4162.5">在教学的过程中，我以三个维</tspan><tspan x="63" dy="16">度制定切实有效的教学目标，提</tspan><tspan x="63" dy="16">高效率，在课堂教学中，提升</tspan><tspan x="63" dy="16">学生兴趣，提高学生的参与度，切实</tspan><tspan x="63" dy="16">提高课堂的有效性，如果</tspan><tspan x="63" dy="16">达到了目的，那么这个教学环</tspan><tspan x="63" dy="16">节在学生达到目标以后，再</tspan><tspan x="63" dy="16">进行，确保学生把知识真正掌</tspan><tspan x="63" dy="16">握。</tspan></text></g>
<g id="b5-3a"><rect x="81" y="4328" width="262" height="109" rx="6" class="f5"/><text class="t"><tspan x="88" y="4347">以往的教学，往往一节课教师说的太</tspan><tspan x="88" dy="16">多，虽然心里面认识到，良好</tspan><tspan x="88" dy="16">的教学应引导学生探索、掌握知识，</tspan><tspan x="88" dy="16">学生是主体地位，但下课以后扪</tspan><tspan x="88" dy="16">心自问，自己占据了绝大部分时间，</tspan><tspan x="88" dy="16">课堂枯燥，学生听不进去。</tspan></text></g>
<g id="b5-3b"><rect x="81" y="4465.5" width="262" height="141" rx="6" class="f5"/><text class="t"><tspan x="88" y="4484.5">意识到这点后，在教学环节的设计中，</tspan><tspan x="88" dy="16">我注重情境的创设，让学生带着兴趣</tspan><tspan x="88" dy="16">进入到生活实际情境中，在</tspan><tspan x="88" dy="16">情境中学习英语;其次，我在英语教学中</tspan><tspan x="88" dy="16">让学生共同参与，学生对话，学生角</tspan><tspan x="88" dy="16">色扮演等环节，真正的让学生来占</tspan><tspan x="88" dy="16">据课堂，增加学生的参与度，提高了学生学习</tspan><tspan x="88" dy="16">的兴趣。</tspan></text></g>
<g id="b5-3c"><rect x="81" y="4635" width="262" height="109" rx="6" class="f5"/><text class="t"><tspan x="88" y="4654">改变传统的课堂教学模式，注重学生自主</tspan><tspan x="88" dy="16">学习，全面推进素质教育，是一项长期的系</tspan><tspan x="88" dy="16">统工程，需要英语教师积极探索，大胆实</tspan><tspan x="88" dy="16">践，发挥素质教育的优势，努力培养</tspan><tspan x="88" dy="16">学生的能力。</tspan></text></g>

<g id="b6"><rect x="1447" y="5288.5" width="310" height="35" rx="17.5" fill="#e5197f"/><text class="lb" x="1602" y="5311" fill="#fff">有关于初一英语教学反思相关文章</text></g>
<g id="b6-1"><rect x="1781" y="5041" width="182" height="28.5" rx="6" class="f6"/><text class="t" x="1788" y="5059.7">★ 2021英语课堂教学反思五篇</text></g>
<g id="b6-2"><rect x="1781" y="5096.5" width="215" height="28.5" rx="6" class="f6"/><text class="t" x="1788" y="5115.4">★ 英语教学反思与总结简短【五篇】</text></g>
<g id="b6-3"><rect x="1781" y="5152.2" width="156" height="28.5" rx="6" class="f6"/><text class="t" x="1788" y="5171.1">★ 英语教学反思600字5篇</text></g>
<g id="b6-4"><rect x="1781" y="5207.9" width="189" height="28.5" rx="6" class="f6"/><text class="t" x="1788" y="5226.8">★ 2021年英语课程反思5篇范文</text></g>
<g id="b6-5"><rect x="1781" y="5263.6" width="172" height="28.5" rx="6" class="f6"/><text class="t" x="1788" y="5282.5">★ 初中英语教学反思最新5篇</text></g>
<g id="b6-6"><rect x="1781" y="5319.3" width="197" height="28.5" rx="6" class="f6"/><text class="t" x="1788" y="5338.2">★ 初中英语教师教学反思最新5篇</text></g>
<g id="b6-7"><rect x="1781" y="5375" width="222" height="28.5" rx="6" class="f6"/><text class="t" x="1788" y="5393.9">★ 初中英语教师个人教学反思范文5篇</text></g>
<g id="b6-8"><rect x="1781" y="5430.7" width="182" height="28.5" rx="6" class="f6"/><text class="t" x="1788" y="5449.6">★ 英语教学反思个人总结2021</text></g>
<g id="b6-9"><rect x="1781" y="5486.4" width="197" height="28.5" rx="6" class="f6"/><text class="t" x="1788" y="5505.3">★ 英语教学反思总结优秀范文7篇</text></g>
<g id="b6-10"><rect x="1781" y="5542.1" width="197" height="28.5" rx="6" class="f6"/><text class="t" x="1788" y="5561">★ 英语教师教学反思思想总结7篇</text></g>
</g>
</svg>
